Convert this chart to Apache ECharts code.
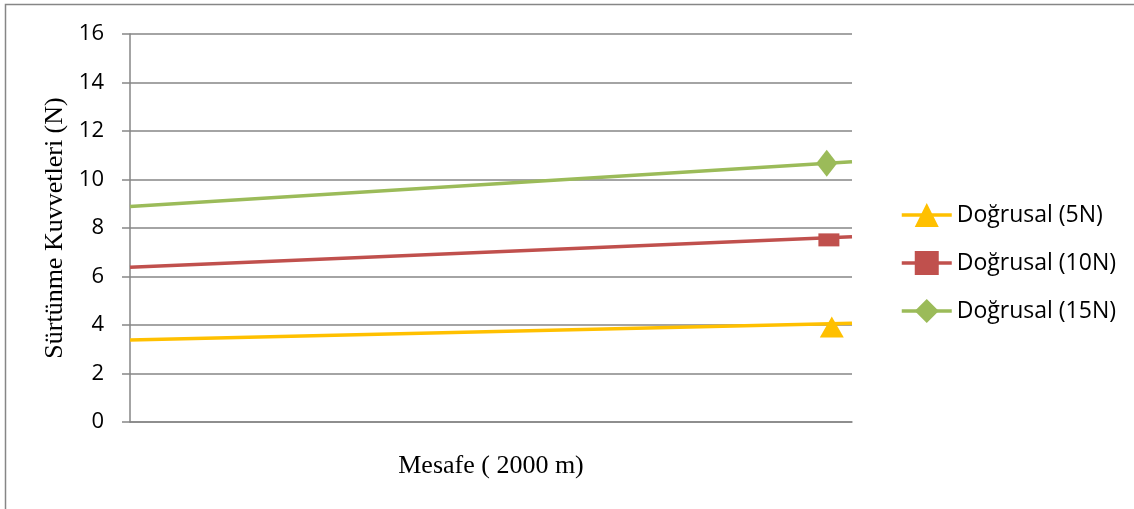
<!DOCTYPE html>
<html>
<head>
<meta charset="utf-8">
<script src="https://cdn.jsdelivr.net/npm/echarts@6/dist/echarts.min.js"></script>
<style>
html,body{margin:0;padding:0;background:#fff;}
#chart{width:1134px;height:509px;}
</style>
</head>
<body>
<div id="chart"></div>
<script>
const seriesNames = ['Doğrusal (5N)', 'Doğrusal (10N)', 'Doğrusal (15N)'];
const trendStart = [3.38, 6.38, 8.89];
const trendEnd = [4.07, 7.64, 10.73];
const markerX = [0.972, 0.968, 0.965];
const markerY = [3.92, 7.51, 10.67];
const yAxisTitle = 'Sürtünme Kuvvetleri (N)';
const xAxisTitle = 'Mesafe ( 2000 m)';

const colors = ['#FFC000', '#C0504D', '#9BBB59'];
const symbols = ['triangle', 'path://M0,0L21,0L21,13L0,13Z', 'diamond'];
const symbolSizes = [[24, 21], [21, 13], [21, 27]];
const gridColor = '#868686';
const sans = '"Open Sans", "Noto Sans", sans-serif';
const serif = '"Liberation Serif", "DejaVu Serif", serif';

const series = [];
seriesNames.forEach((name, i) => {
  series.push({
    name: name,
    type: 'line',
    data: [[0, trendStart[i]], [1, trendEnd[i]]],
    symbol: symbols[i],
    showSymbol: false,
    symbolKeepAspect: true,
    lineStyle: { color: colors[i], width: 3.5 },
    itemStyle: { color: colors[i] },
    silent: true,
    z: 2
  });
  series.push({
    name: name + ' ',
    type: 'scatter',
    data: [[markerX[i], markerY[i]]],
    symbol: symbols[i],
    symbolSize: symbolSizes[i],
    itemStyle: { color: colors[i], opacity: 1 },
    silent: true,
    z: 3
  });
});

const chart = echarts.init(document.getElementById('chart'), null, { renderer: 'canvas' });
chart.setOption({
  animation: false,
  backgroundColor: '#ffffff',
  grid: { left: 130, right: 282, top: 34, bottom: 87, containLabel: false },
  graphic: [{
    type: 'rect',
    shape: { x: 5.5, y: 4.5, width: 1300, height: 700 },
    style: { fill: 'none', stroke: gridColor, lineWidth: 1.5 },
    silent: true
  }],
  legend: {
    orient: 'vertical',
    left: 895,
    top: 195,
    itemWidth: 50,
    itemHeight: 30,
    itemGap: 18,
    data: seriesNames,
    lineStyle: { width: 3.5 },
    textStyle: { fontFamily: sans, fontSize: 23, color: '#000', lineHeight: 30 },
    selectedMode: false
  },
  xAxis: {
    type: 'value',
    min: 0,
    max: 1,
    name: xAxisTitle,
    nameLocation: 'middle',
    nameGap: 31,
    nameTextStyle: { fontFamily: serif, fontSize: 26, color: '#000' },
    axisLine: { show: true, lineStyle: { color: gridColor, width: 1.5 } },
    axisTick: { show: false },
    axisLabel: { show: false },
    splitLine: { show: false }
  },
  yAxis: {
    type: 'value',
    min: 0,
    max: 16,
    interval: 2,
    name: yAxisTitle,
    nameLocation: 'middle',
    nameRotate: 90,
    nameGap: 61,
    nameTextStyle: { fontFamily: serif, fontSize: 26, color: '#000' },
    axisLine: { show: true, lineStyle: { color: gridColor, width: 1.5 } },
    axisTick: { show: true, length: 8, inside: false, lineStyle: { color: gridColor, width: 1.5 } },
    axisLabel: { fontFamily: sans, fontSize: 22, color: '#000', margin: 26 },
    splitLine: { show: true, lineStyle: { color: gridColor, width: 1.5 } }
  },
  series: series
});
</script>
</body>
</html>
